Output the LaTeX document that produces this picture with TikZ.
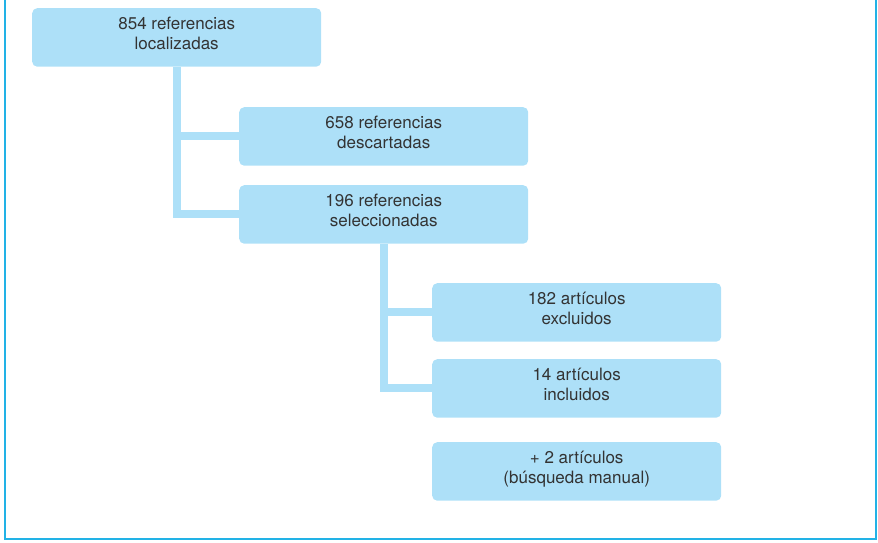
\documentclass[tikz,border=0pt]{standalone}
\usepackage{fontspec}
\setmainfont{TeX Gyre Heros}
\definecolor{boxblue}{HTML}{ADE0F8}
\definecolor{framecyan}{HTML}{22B2E6}
\definecolor{txt}{HTML}{333333}
\newcommand\mytwo[2]{\raisebox{2pt}[\height][\depth]{\begin{tabular}{@{}c@{}}#1\\#2\end{tabular}}}
\tikzset{
  refbox/.style={fill=boxblue, rounded corners=5pt, minimum width=289pt, minimum height=58.5pt,
    inner sep=0pt, text=txt, font=\fontsize{17}{20}\selectfont, anchor=north west},
  conn/.style={draw=boxblue, line width=8pt, line join=miter, line cap=butt},
  frameline/.style={draw=framecyan, line width=2pt}
}
\begin{document}
\begin{tikzpicture}[x=1pt,y=1pt]
\useasboundingbox (0,0) rectangle (878,543);
% frame (no top edge)
\coordinate (fTL) at (5,543);
\coordinate (fBL) at (5,4);
\coordinate (fBR) at (876,4);
\coordinate (fTR) at (876,543);
\draw[frameline] (fTL) -- (fBL) -- (fBR) -- (fTR);
% boxes
\node[refbox] (b1) at (32,535) {\mytwo{854 referencias}{localizadas}};
\node[refbox] (b2) at (239,436) {\mytwo{658 referencias}{descartadas}};
\node[refbox] (b3) at (239,358) {\mytwo{196 referencias}{seleccionadas}};
\node[refbox] (b4) at (432,260) {\mytwo{182 artículos}{excluidos}};
\node[refbox] (b5) at (432,184) {\mytwo{14 artículos}{incluidos}};
\node[refbox] (b6) at (432,101) {\mytwo{+ 2 artículos}{(búsqueda manual)}};
% connectors
\coordinate (x1) at (177,0);
\coordinate (x2) at (384,0);
\draw[conn] (b1.south -| x1) |- (b3.west);
\draw[conn] (b2.west -| x1) -- (b2.west);
\draw[conn] (b3.south -| x2) |- (b5.west);
\draw[conn] (b4.west -| x2) -- (b4.west);
\end{tikzpicture}
\end{document}
